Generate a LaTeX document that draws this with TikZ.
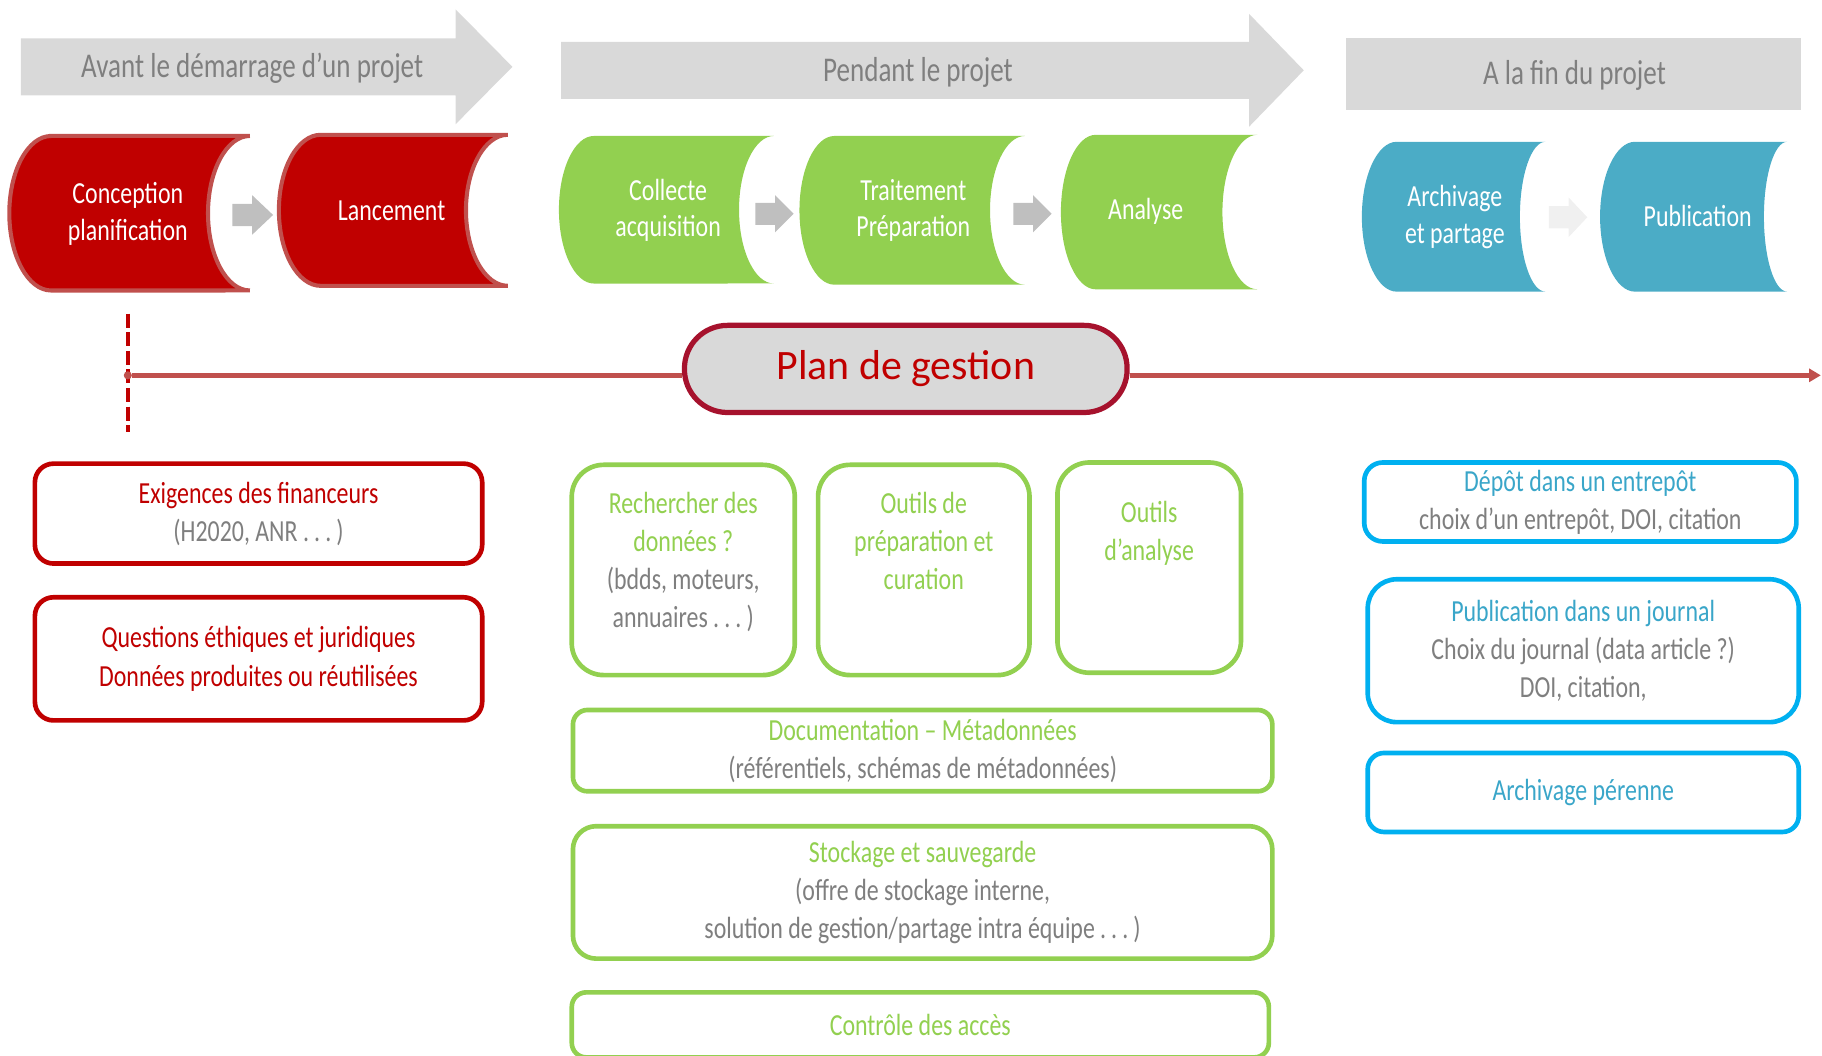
\documentclass[tikz,border=0pt]{standalone}
\usepackage{fontspec}
\setmainfont{Carlito}[FakeStretch=0.78]
\newfontfamily\planfont{Carlito}
\usepackage{tikz}
\usetikzlibrary{arrows.meta,positioning}
\definecolor{headbg}{HTML}{D9D9D9}
\definecolor{headtxt}{HTML}{7F7F7F}
\definecolor{redfill}{HTML}{C00000}
\definecolor{rededge}{HTML}{C0504D}
\definecolor{greenfill}{HTML}{92D050}
\definecolor{bluefill}{HTML}{4BACC6}
\definecolor{flowgrey}{HTML}{BFBFBF}
\definecolor{flowpale}{HTML}{F0F0F0}
\definecolor{cardred}{HTML}{C00000}
\definecolor{cardgreen}{HTML}{92D050}
\definecolor{cardblue}{HTML}{00B0F0}
\definecolor{bluetxt}{HTML}{3AA6C9}
\definecolor{txtgrey}{HTML}{7F7F7F}
\definecolor{planedge}{HTML}{A6122D}
\definecolor{linered}{HTML}{C0504D}

\begin{document}
\begin{tikzpicture}[x=0.02cm,y=-0.02cm,
  headtext/.style={text=headtxt,font=\fontsize{17}{20}\selectfont},
  phasetext/.style={text=white,align=center,font=\fontsize{15}{18}\selectfont},
  card/.style={rectangle,rounded corners=#1,line width=0.08cm,fill=white,align=center,inner sep=0pt,font=\fontsize{15}{18.7}\selectfont},
  card/.default=0.32cm,
  cardtext/.style={align=center,inner sep=0pt,font=\fontsize{15}{18.7}\selectfont},
  redcard/.style={card,draw=cardred,text=cardred},
  greencard/.style={card=#1,draw=cardgreen,text=cardgreen},
  greencard/.default=0.3cm,
  bluecard/.style={card=#1,draw=cardblue,text=bluetxt},
  bluecard/.default=0.32cm,
  timeline/.style={draw=linered,line width=0.08cm}]
\useasboundingbox (0,0) rectangle (1568,908);
\clip (0,0) rectangle (1568,908);

% phase headers
\fill[headbg] (18,33) -- (392,33) -- (392,8) -- (441,57.5) -- (392,107) -- (392,82) -- (18,82) -- cycle;
\fill[headbg] (483,36) -- (1075,36) -- (1075,12) -- (1122,60.5) -- (1075,109) -- (1075,85) -- (483,85) -- cycle;
\fill[headbg] (1158,33) rectangle (1550,95);
\node[headtext] (before) at (217,59) {Avant le démarrage d’un projet};
\node[headtext] (during) at (790,62) {Pendant le projet};
\node[headtext] (after) at (1355,65) {A la fin du projet};

% steps
\filldraw[fill=redfill,draw=rededge,line width=0.07cm] (44,117) -- (215,117) arc[start angle=90,end angle=270,x radius=0.72cm,y radius=1.33cm] -- (44,250) arc[start angle=270,end angle=90,x radius=0.72cm,y radius=1.33cm] -- cycle;
\filldraw[fill=redfill,draw=rededge,line width=0.07cm] (276,116) -- (437,116) arc[start angle=90,end angle=270,x radius=0.72cm,y radius=1.3cm] -- (276,246) arc[start angle=270,end angle=90,x radius=0.72cm,y radius=1.3cm] -- cycle;
\fill[greenfill] (511,117) -- (666,117) arc[start angle=90,end angle=270,x radius=0.6cm,y radius=1.27cm] -- (511,244) arc[start angle=270,end angle=90,x radius=0.6cm,y radius=1.27cm] -- cycle;
\fill[greenfill] (718,117) -- (882,117) arc[start angle=90,end angle=270,x radius=0.6cm,y radius=1.28cm] -- (718,245) arc[start angle=270,end angle=90,x radius=0.6cm,y radius=1.28cm] -- cycle;
\fill[greenfill] (943,116) -- (1082,116) arc[start angle=90,end angle=270,x radius=0.6cm,y radius=1.33cm] -- (943,249) arc[start angle=270,end angle=90,x radius=0.6cm,y radius=1.33cm] -- cycle;
\fill[bluefill] (1202,122) -- (1330,122) arc[start angle=90,end angle=270,x radius=0.44cm,y radius=1.29cm] -- (1202,251) arc[start angle=270,end angle=90,x radius=0.6cm,y radius=1.29cm] -- cycle;
\fill[bluefill] (1407,122) -- (1538,122) arc[start angle=90,end angle=270,x radius=0.4cm,y radius=1.29cm] -- (1407,251) arc[start angle=270,end angle=90,x radius=0.6cm,y radius=1.29cm] -- cycle;
\fill[flowgrey] (200,175.5) -- (217,175.5) -- (217,168) -- (235,185) -- (217,202) -- (217,194.5) -- (200,194.5) -- cycle;
\fill[flowgrey] (650,174.5) -- (667,174.5) -- (667,168) -- (683,184) -- (667,200) -- (667,193.5) -- (650,193.5) -- cycle;
\fill[flowgrey] (872,174.5) -- (889,174.5) -- (889,168) -- (905,184) -- (889,200) -- (889,193.5) -- (872,193.5) -- cycle;
\fill[flowpale] (1333,177.5) -- (1350,177.5) -- (1350,170) -- (1366,187) -- (1350,204) -- (1350,196.5) -- (1333,196.5) -- cycle;
\node[phasetext] (conception) at (110,184) {Conception\\planification};
\node[phasetext] (lancement) at (337,181) {Lancement};
\node[phasetext] (collecte) at (575,181) {Collecte\\acquisition};
\node[phasetext] (traitement) at (786,181) {Traitement\\Préparation};
\node[phasetext] (analyse) at (986,182) {Analyse};
\node[phasetext] (archivage) at (1252,187) {Archivage\\et partage};
\node[phasetext] (publication) at (1461,186) {Publication};

% plan de gestion
\coordinate (dtop) at (110,270);
\coordinate (dbot) at (110,372);
\draw[draw=cardred,line width=0.06cm,dash pattern=on 0.24cm off 0.08cm] (dtop) -- (dbot);
\node[rectangle,rounded corners=0.74cm,fill=headbg,draw=planedge,line width=0.09cm,minimum width=7.62cm,minimum height=1.5cm,text=cardred,font=\planfont\fontsize{20.5}{24}\selectfont] (plan) at (779.5,317.5) {Plan de gestion};
\node[circle,fill=linered,inner sep=0pt,minimum size=0.14cm] (tstart) at (110,323) {};
\coordinate (tend) at (1567,323);
\draw[timeline] (tstart) -- (tstart -| plan.west);
\draw[timeline,-{Triangle[length=0.2cm,width=0.22cm]}] (tend -| plan.east) -- (tend);

% avant
\node[redcard,minimum width=7.7cm,minimum height=1.72cm] (exigences) at (222.5,442) {Exigences des financeurs\\\textcolor{txtgrey}{(H2020, ANR .\,.\,.\,)}};
\node[redcard,minimum width=7.7cm,minimum height=2.12cm] (ethique) at (222.5,567) {Questions éthiques et juridiques\\Données produites ou réutilisées};

% pendant
\node[greencard=0.55cm,minimum width=3.84cm,minimum height=3.62cm] (recherche) at (588,490.5) {};
\node[greencard=0.55cm,minimum width=3.64cm,minimum height=3.62cm] (preparation) at (795,490.5) {};
\node[greencard=0.55cm,minimum width=3.16cm,minimum height=3.62cm] (outils) at (989,488.5) {};
\node[cardtext,text=cardgreen,below=0.5cm of recherche.north] (recherchetxt) {Rechercher des\\données~?\\\textcolor{txtgrey}{(bdds, moteurs,}\\\textcolor{txtgrey}{annuaires .\,.\,.\,)}};
\node[cardtext,text=cardgreen,below=0.5cm of preparation.north] (preparationtxt) {Outils de\\préparation et\\curation};
\node[cardtext,text=cardgreen,below=0.7cm of outils.north] (outilstxt) {Outils\\d’analyse};
\node[greencard=0.25cm,minimum width=12.04cm,minimum height=1.4cm] (documentation) at (794,646) {Documentation -- Métadonnées\\\textcolor{txtgrey}{(référentiels, schémas de métadonnées)}};
\node[greencard=0.4cm,minimum width=12.04cm,minimum height=2.28cm] (stockage) at (794,768) {Stockage et sauvegarde\\\textcolor{txtgrey}{(offre de stockage interne,}\\\textcolor{txtgrey}{solution de gestion/partage intra équipe\,.\,.\,.\,)}};
\node[greencard=0.25cm,minimum width=12cm,minimum height=1.12cm] (acces) at (792,882) {Contrôle des accès};

% fin
\node[bluecard,minimum width=7.44cm,minimum height=1.36cm] (depot) at (1360,432) {Dépôt dans un entrepôt\\\textcolor{txtgrey}{choix d’un entrepôt, DOI, citation}};
\node[bluecard=0.5cm,minimum width=7.42cm,minimum height=2.46cm] (journal) at (1362.5,560) {Publication dans un journal\\\textcolor{txtgrey}{Choix du journal (data article~?)}\\\textcolor{txtgrey}{DOI, citation,}};
\node[bluecard=0.28cm,minimum width=7.42cm,minimum height=1.36cm] (perenne) at (1362.5,682) {Archivage pérenne};
\end{tikzpicture}
\end{document}
